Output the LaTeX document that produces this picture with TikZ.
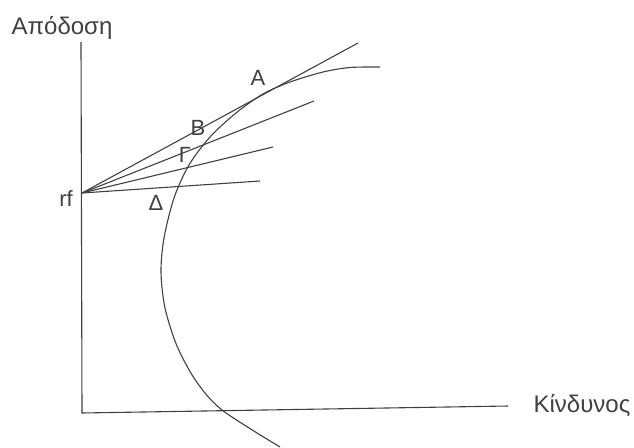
\documentclass[tikz,border=0pt]{standalone}
\usepackage{fontspec}
\setmainfont{Liberation Sans}
\begin{document}
\begin{tikzpicture}[x=1pt,y=-1pt,
  ln/.style={draw=black!75,line width=1.1pt},
  lbl/.style={inner sep=0pt,font=\fontsize{22}{24}\selectfont,text=black!75},
  axlbl/.style={inner sep=0pt,font=\fontsize{24}{26}\selectfont,text=black!75,anchor=base}]
\useasboundingbox (0,0) rectangle (634,447);
\coordinate (top) at (81,42);
\coordinate (O) at (82,413);
\coordinate (xend) at (508,406);
\coordinate (rf) at (82,193);
\coordinate (eA) at (358,43);
\coordinate (eB) at (314,101);
\coordinate (eG) at (273,147);
\coordinate (eD) at (260,181);
\draw[ln] (top) -- (O) -- (xend);
\draw[ln] (rf) -- (eA);
\draw[ln] (rf) -- (eB);
\draw[ln] (rf) -- (eG);
\draw[ln] (rf) -- (eD);
\draw[ln] plot[smooth,tension=0.5] coordinates {(380,67) (350,67.5) (323,72) (290,82) (263,94) (236,113) (210,137) (189,165) (174,198) (164,238) (161,272) (165,308) (177,346) (196,381) (222,410) (280,447)};
\node[axlbl] (ylab) at (62,34) {Απόδοση};
\node[axlbl] (xlab) at (582,412) {Κίνδυνος};
\node[lbl] (lA) at (258,78) {A};
\node[lbl] (lB) at (198,128) {B};
\node[lbl] (lG) at (185,155) {Γ};
\node[lbl] (lD) at (156,203) {Δ};
\node[lbl] (lrf) at (66,199) {rf};
\end{tikzpicture}
\end{document}
